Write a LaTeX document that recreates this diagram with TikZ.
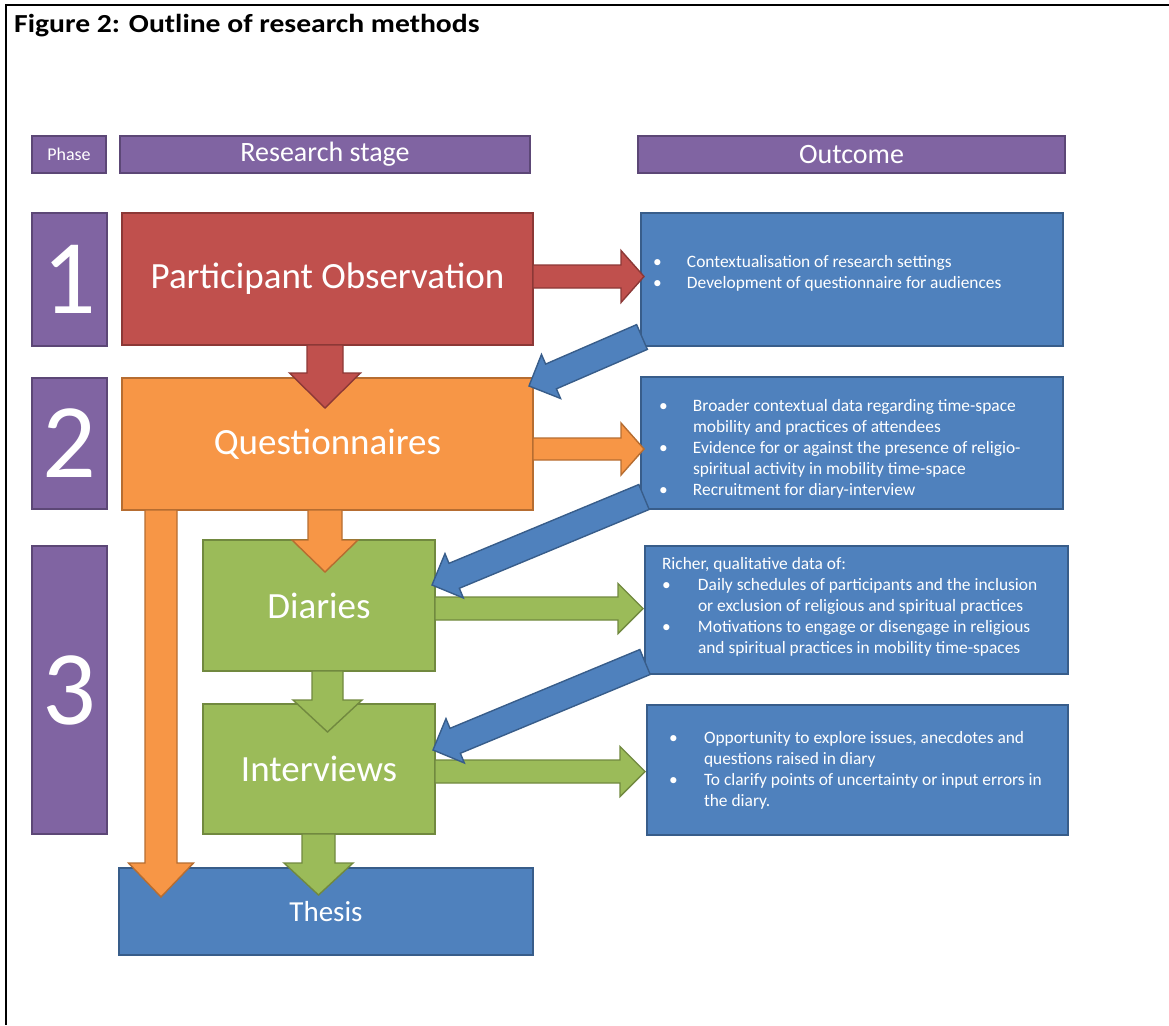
\documentclass[tikz,border=0pt]{standalone}
\usepackage{fontspec}
\setmainfont{Carlito}
\usetikzlibrary{calc}
\definecolor{purp}{HTML}{8064A2}
\definecolor{purpD}{HTML}{5C4776}
\definecolor{redF}{HTML}{C0504D}
\definecolor{redD}{HTML}{8C3836}
\definecolor{orgF}{HTML}{F79646}
\definecolor{orgD}{HTML}{B66D31}
\definecolor{grnF}{HTML}{9BBB59}
\definecolor{grnD}{HTML}{71893F}
\definecolor{bluF}{HTML}{4F81BD}
\definecolor{bluD}{HTML}{385D8A}
% block arrow: [style]{start}{tip}{shaft half width}{head half width}{head length}
\newcommand\blockarrow[6][]{%
  \filldraw[#1] let \p1=($(#3)!#6!(#2)$) in
   ($(#2)!#4!90:(#3)$) -- ($(\p1)!#4!90:(#3)$) -- ($(\p1)!#5!90:(#3)$) -- (#3)
   -- ($(\p1)!#5!-90:(#3)$) -- ($(\p1)!#4!-90:(#3)$) -- ($(#2)!#4!-90:(#3)$) -- cycle;}
\newcommand\obul[1]{\makebox[#1][l]{\textbullet}}
\newcommand\oind[1]{\hspace*{#1}}
\tikzset{
  box/.style={rectangle, anchor=north west, inner sep=0pt, outer sep=0pt, line width=1.6pt, text=white, align=center},
  pbox/.style={box, fill=purp, draw=purpD},
  rbox/.style={box, fill=redF, draw=redD},
  obox/.style={box, fill=orgF, draw=orgD},
  gbox/.style={box, fill=grnF, draw=grnD},
  bbox/.style={box, fill=bluF, draw=bluD},
  arr/.style={line width=1.4pt, line join=miter},
  rarr/.style={arr, fill=redF, draw=redD},
  oarr/.style={arr, fill=orgF, draw=orgD},
  garr/.style={arr, fill=grnF, draw=grnD},
  barr/.style={arr, fill=bluF, draw=bluD},
  btxt/.style={anchor=north west, inner sep=0pt, outer sep=0pt, text=white, align=left, font=\fontsize{17.4}{21.2}\selectfont},
  bigtxt/.style={font=\fontsize{37}{40}\selectfont},
  numtxt/.style={font=\fontsize{106}{106}\selectfont},
}
\begin{document}
\begin{tikzpicture}[x=1pt,y=-1pt]
\useasboundingbox (0,0) rectangle (1169,1025);
% frame
\draw[line width=2pt] (1169,5) -- (6,5) -- (6,1025);
% title
\node[anchor=base west, inner sep=0pt] (title) at (14,33)
  {\scalebox{1.14}[1]{\fontsize{26}{30}\selectfont\bfseries Figure 2: Outline of research methods}};
% headers
\node[pbox, minimum width=74pt, minimum height=37pt, font=\fontsize{18}{20}\selectfont] (hphase) at (32,136) {Phase};
\node[pbox, minimum width=410pt, minimum height=37pt, font=\fontsize{28}{30}\selectfont] (hstage) at (120,136) {Research stage};
\node[pbox, minimum width=427pt, minimum height=37pt, font=\fontsize{28}{30}\selectfont] (hout) at (638,136) {Outcome};
% phases
\node[pbox, minimum width=75pt, minimum height=133pt, numtxt] (p1) at (32,213) {1};
\node[pbox, minimum width=75pt, minimum height=131pt, numtxt] (p2) at (32,378) {2};
\node[pbox, minimum width=75pt, minimum height=288pt, numtxt] (p3) at (32,546) {3};
% stages
\node[rbox, minimum width=411pt, minimum height=132pt, bigtxt] (po) at (122,213) {Participant Observation};
\node[obox, minimum width=411pt, minimum height=132pt, bigtxt] (q) at (122,378) {Questionnaires};
\node[gbox, minimum width=232pt, minimum height=131pt, bigtxt] (d) at (203,540) {Diaries};
\node[gbox, minimum width=232pt, minimum height=130pt, bigtxt] (iv) at (203,704) {Interviews};
\node[bbox, minimum width=414pt, minimum height=87pt, font=\fontsize{29}{31}\selectfont] (th) at (119,868) {Thesis};
% outcomes
\node[bbox, minimum width=422pt, minimum height=133pt] (b1) at (641,213) {};
\node[bbox, minimum width=422pt, minimum height=132pt] (b2) at (641,377) {};
\node[bbox, minimum width=423pt, minimum height=128pt] (b3) at (645,546) {};
\node[bbox, minimum width=421pt, minimum height=130pt] (b4) at (647,705) {};
\node[btxt] (t1) at (653,255) {\obul{34pt}Contextualisation of research settings\\
  \obul{34pt}Development of questionnaire for audiences};
\node[btxt] (t2) at (659,399) {\obul{34pt}Broader contextual data regarding time-space\\
  \oind{34pt}mobility and practices of attendees\\
  \obul{34pt}Evidence for or against the presence of religio-\\
  \oind{34pt}spiritual activity in mobility time-space\\
  \obul{34pt}Recruitment for diary-interview};
\node[btxt] (t3) at (662,557) {Richer, qualitative data of:\\
  \obul{36pt}Daily schedules of participants and the inclusion\\
  \oind{36pt}or exclusion of religious and spiritual practices\\
  \obul{36pt}Motivations to engage or disengage in religious\\
  \oind{36pt}and spiritual practices in mobility time-spaces};
\node[btxt] (t4) at (669,731) {\obul{35pt}Opportunity to explore issues, anecdotes and\\
  \oind{35pt}questions raised in diary\\
  \obul{35pt}To clarify points of uncertainty or input errors in\\
  \oind{35pt}the diary.};
% arrow end points
\coordinate (rrS) at ($(po.east)+(0,-2.5)$);
\coordinate (rrE) at ($(b1.west)+(3,-3)$);
\coordinate (rdS) at ($(po.south)+(-2.5,0)$);
\coordinate (rdE) at ($(q.north)+(-2.5,30)$);
\coordinate (orS) at ($(q.east)+(0,5)$);
\coordinate (orE) at ($(b2.west)+(3,6)$);
\coordinate (odS) at ($(q.south)+(-2.5,0)$);
\coordinate (odE) at ($(d.north)+(6,32)$);
\coordinate (olS) at ($(q.south west)+(39,0)$);
\coordinate (olE) at ($(th.north west)+(42,29)$);
\coordinate (gdS) at ($(d.south)+(8.5,0)$);
\coordinate (gdE) at ($(iv.north)+(8.5,28)$);
\coordinate (giS) at ($(iv.south)+(-0.5,0)$);
\coordinate (giE) at ($(th.north)+(-7.5,27)$);
\coordinate (grdS) at ($(d.east)+(0,3)$);
\coordinate (grdE) at ($(b3.west)+(-2,-1.5)$);
\coordinate (griS) at ($(iv.east)+(0,2.5)$);
\coordinate (griE) at ($(b4.west)+(-2,1.5)$);
\coordinate (b1S) at ($(b1.south west)+(1,-9)$);
\coordinate (b1E) at ($(q.north east)+(-4,8)$);
\coordinate (b2S) at ($(b2.south west)+(3,-12)$);
\coordinate (b2E) at ($(d.north east)+(-3,45)$);
\coordinate (b3S) at ($(b3.south west)+(0,-12)$);
\coordinate (b3E) at ($(iv.north east)+(-2,46)$);
% vertical arrows
\blockarrow[rarr]{rdS}{rdE}{18pt}{35.5pt}{35pt}
\blockarrow[oarr]{odS}{odE}{17pt}{33pt}{32pt}
\blockarrow[oarr]{olS}{olE}{16pt}{32.5pt}{34pt}
\blockarrow[garr]{gdS}{gdE}{15.5pt}{34.5pt}{32pt}
\blockarrow[garr]{giS}{giE}{16.5pt}{34.5pt}{32pt}
% horizontal arrows
\blockarrow[rarr]{rrS}{rrE}{11.5pt}{26pt}{23pt}
\blockarrow[oarr]{orS}{orE}{11pt}{26pt}{23pt}
\blockarrow[garr]{grdS}{grdE}{11.5pt}{25pt}{25pt}
\blockarrow[garr]{griS}{griE}{11.5pt}{25pt}{25pt}
% feedback arrows
\blockarrow[barr]{b1S}{b1E}{13.5pt}{24pt}{24pt}
\blockarrow[barr]{b2S}{b2E}{13.5pt}{24pt}{24pt}
\blockarrow[barr]{b3S}{b3E}{13.5pt}{24pt}{24pt}
\end{tikzpicture}
\end{document}
